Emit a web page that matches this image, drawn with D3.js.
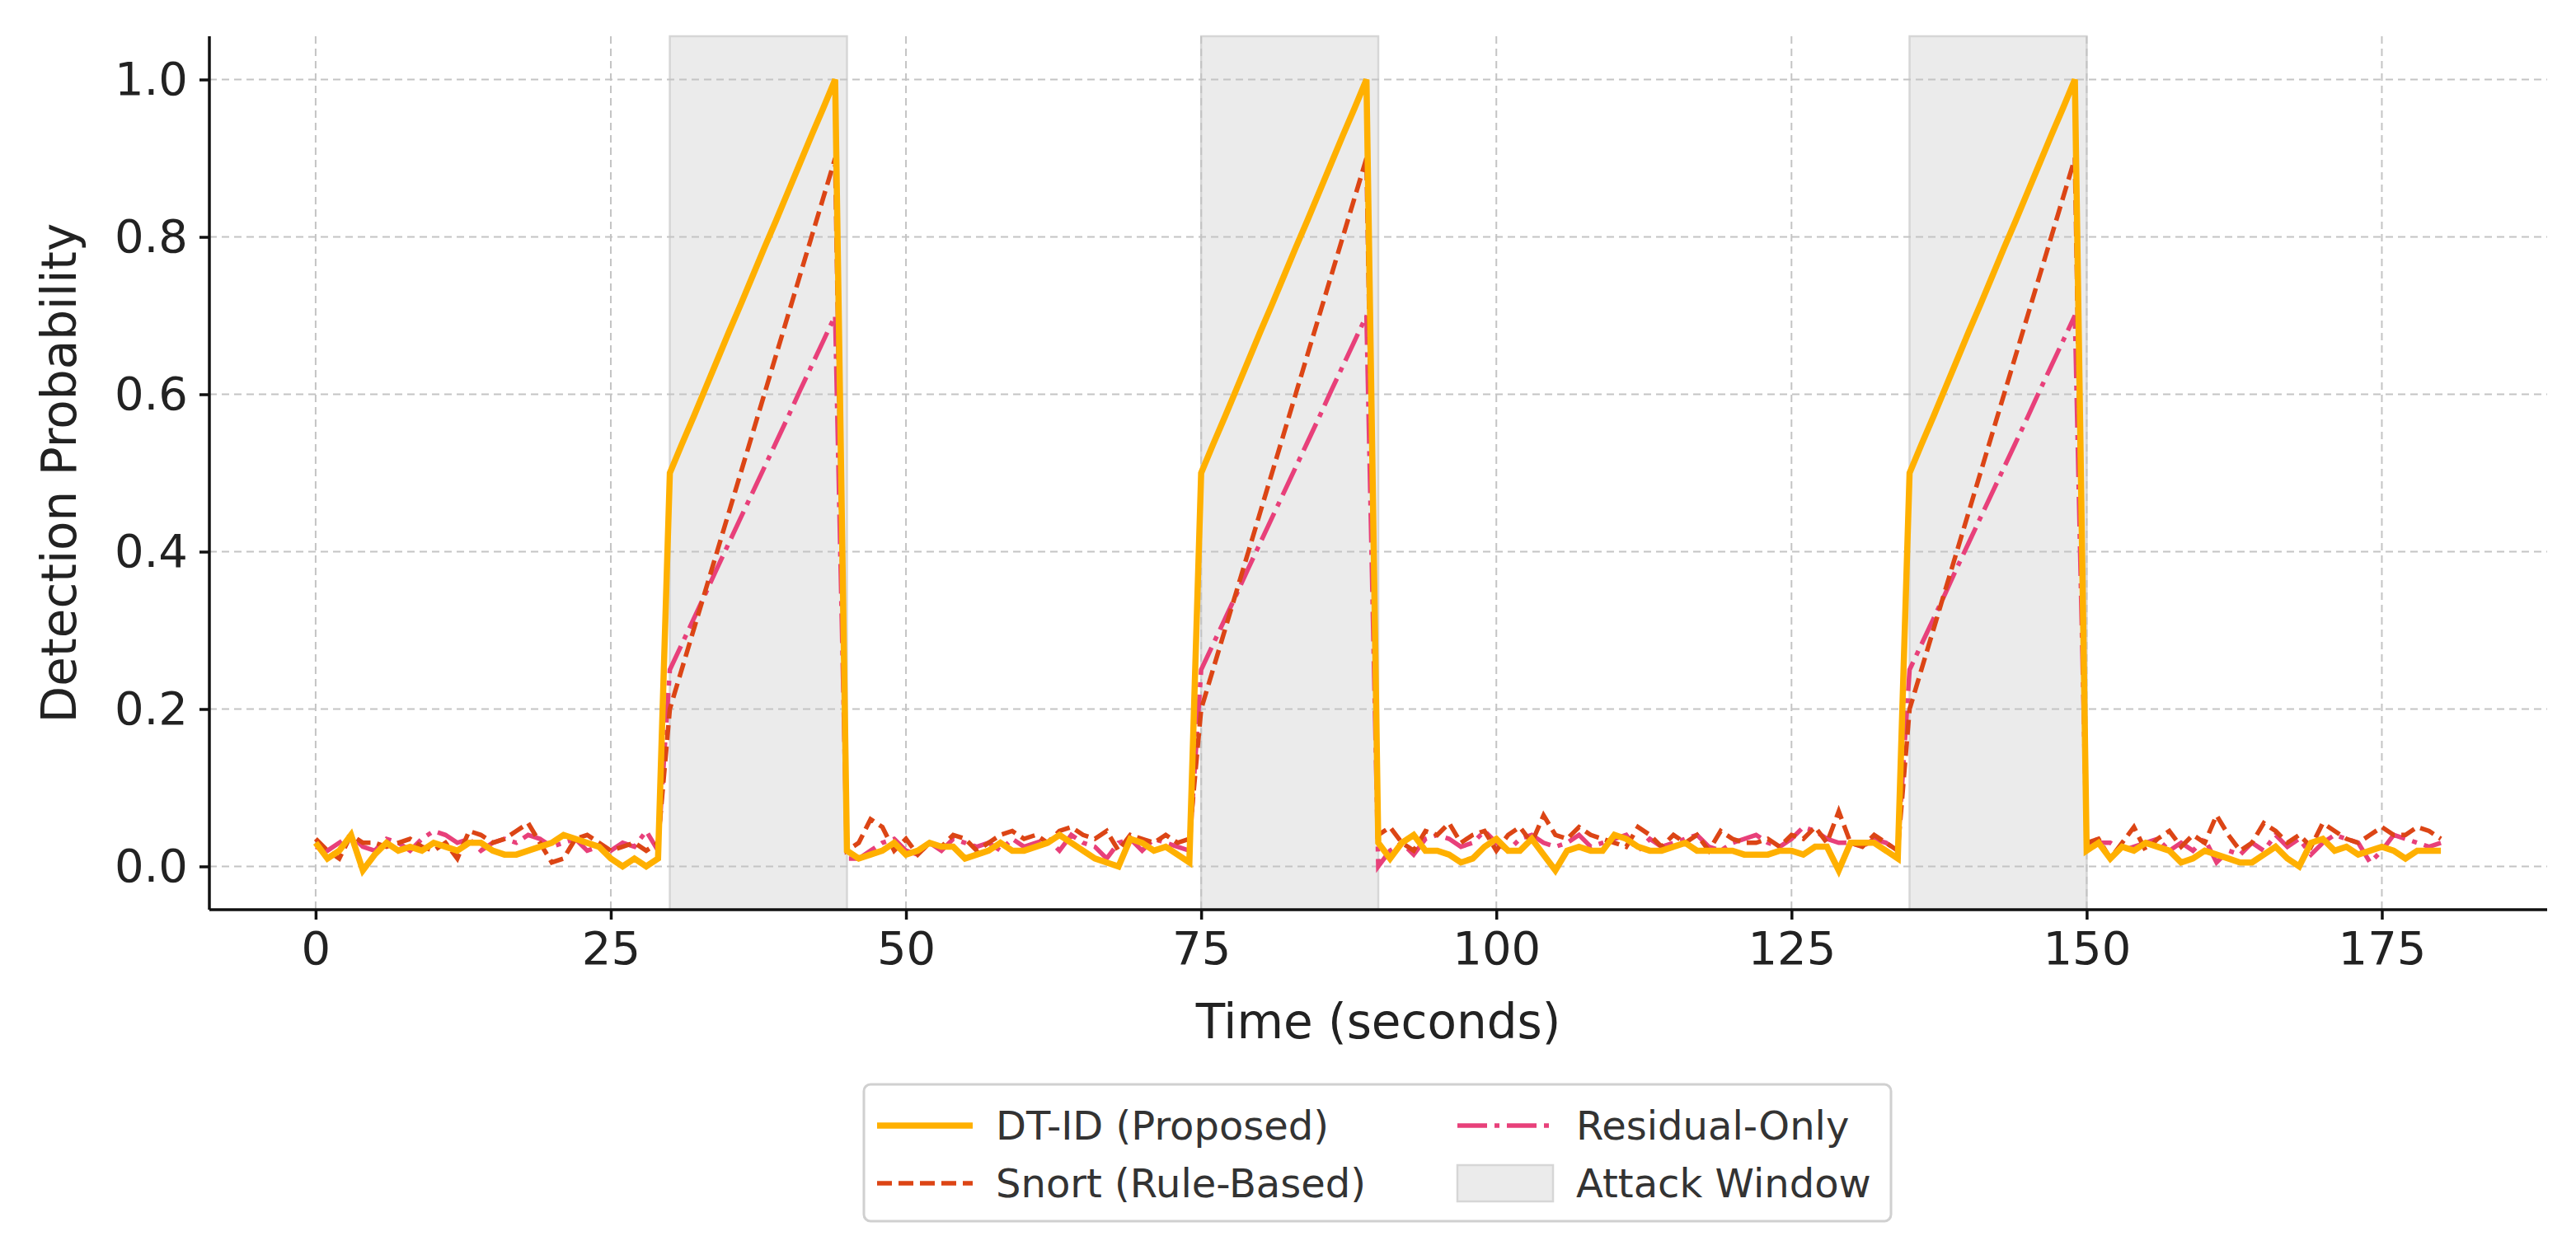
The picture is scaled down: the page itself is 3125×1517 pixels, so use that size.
<!DOCTYPE html>
<html><head><meta charset="utf-8">
<script src="https://cdn.jsdelivr.net/npm/d3@7"></script>
<style>body{margin:0;background:#fff}svg{display:block}</style>
</head><body><svg id="c" width="3125" height="1517"></svg>
<script>
// ---- data ----
const dtSeg0=[0.03,0.01,0.02,0.04,-0.005,0.015,0.03,0.02,0.025,0.02,0.03,0.025,0.02,0.03,0.03,0.02,0.015,0.015,0.02,0.025,0.03,0.04,0.035,0.03,0.025,0.01,0.0,0.01,0.0,0.01];
const dtSeg1=[0.02,0.01,0.015,0.02,0.03,0.015,0.02,0.03,0.025,0.025,0.01,0.015,0.02,0.03,0.02,0.02,0.025,0.03,0.04,0.03,0.02,0.01,0.005,0.0,0.035,0.03,0.02,0.025,0.015,0.005];
const dtSeg2=[0.03,0.01,0.03,0.04,0.02,0.02,0.015,0.005,0.01,0.025,0.035,0.02,0.02,0.035,0.015,-0.005,0.02,0.025,0.02,0.02,0.04,0.035,0.025,0.02,0.02,0.025,0.03,0.02,0.02,0.02,0.02,0.015,0.015,0.015,0.02,0.02,0.015,0.025,0.025,-0.005,0.03,0.03,0.03,0.02,0.01];
const dtSeg3=[0.02,0.03,0.01,0.025,0.02,0.03,0.025,0.02,0.005,0.01,0.02,0.015,0.01,0.005,0.005,0.015,0.025,0.01,0.0,0.03,0.035,0.02,0.025,0.015,0.02,0.025,0.02,0.01,0.02,0.02,0.02];
const dtRamp=[0.5,0.536,0.571,0.607,0.643,0.679,0.714,0.75,0.786,0.821,0.857,0.893,0.929,0.964,1.0];

const snSeg0=[0.035,0.02,0.01,0.04,0.03,0.03,0.025,0.03,0.035,0.025,0.02,0.03,0.01,0.045,0.04,0.03,0.035,0.045,0.055,0.03,0.005,0.01,0.035,0.04,0.03,0.02,0.025,0.03,0.02,0.03];
const snSeg1=[0.02,0.03,0.06,0.05,0.02,0.035,0.015,0.03,0.025,0.04,0.035,0.02,0.03,0.04,0.045,0.035,0.04,0.03,0.045,0.05,0.04,0.035,0.045,0.02,0.04,0.035,0.03,0.04,0.03,0.035];
const snSeg2=[0.04,0.05,0.03,0.02,0.045,0.04,0.055,0.03,0.04,0.045,0.02,0.04,0.05,0.03,0.065,0.04,0.035,0.05,0.04,0.035,0.03,0.025,0.05,0.04,0.025,0.04,0.03,0.04,0.02,0.045,0.035,0.03,0.03,0.035,0.025,0.04,0.035,0.05,0.03,0.07,0.03,0.025,0.04,0.03,0.02];
const snSeg3=[0.03,0.035,0.01,0.03,0.05,0.02,0.035,0.045,0.025,0.04,0.03,0.065,0.04,0.02,0.03,0.055,0.045,0.03,0.04,0.025,0.055,0.045,0.035,0.03,0.04,0.05,0.04,0.04,0.05,0.045,0.035];
const snRamp=[0.2,0.25,0.3,0.35,0.4,0.45,0.5,0.55,0.6,0.65,0.7,0.75,0.8,0.85,0.9];

const reSeg0=[0.025,0.02,0.03,0.04,0.025,0.02,0.035,0.03,0.02,0.035,0.045,0.04,0.03,0.035,0.02,0.03,0.035,0.03,0.04,0.035,0.025,0.03,0.035,0.02,0.025,0.02,0.03,0.025,0.045,0.02];
const reSeg1=[0.01,0.01,0.02,0.03,0.035,0.02,0.015,0.03,0.02,0.035,0.03,0.025,0.03,0.02,0.035,0.025,0.03,0.035,0.02,0.04,0.03,0.025,0.01,0.03,0.035,0.02,0.035,0.03,0.025,0.02];
const reSeg2=[0.0,0.02,0.03,0.015,0.035,0.04,0.035,0.025,0.03,0.045,0.03,0.02,0.035,0.04,0.03,0.025,0.03,0.04,0.025,0.03,0.035,0.04,0.02,0.035,0.025,0.03,0.035,0.04,0.025,0.02,0.03,0.035,0.04,0.03,0.025,0.035,0.05,0.045,0.035,0.03,0.03,0.025,0.035,0.03,0.02];
const reSeg3=[0.025,0.03,0.03,0.02,0.025,0.03,0.035,0.02,0.03,0.02,0.035,0.005,0.02,0.015,0.03,0.02,0.04,0.025,0.035,0.015,0.03,0.04,0.035,0.03,0.005,0.02,0.04,0.035,0.03,0.025,0.03];
const reRamp=[0.25,0.282,0.314,0.346,0.379,0.411,0.443,0.475,0.507,0.539,0.571,0.604,0.636,0.668,0.7];

const attackWindows=[[30,45],[75,90],[135,150]];
const xTicks=[0,25,50,75,100,125,150,175];
const yTicks=[0.0,0.2,0.4,0.6,0.8,1.0];
const seriesNames=["DT-ID (Proposed)","Snort (Rule-Based)","Residual-Only"];

const build=(s0,s1,s2,s3,r)=>[].concat(s0,r,s1,r,s2,r,s3);
const dt=build(dtSeg0,dtSeg1,dtSeg2,dtSeg3,dtRamp);
const sn=build(snSeg0,snSeg1,snSeg2,snSeg3,snRamp);
const re=build(reSeg0,reSeg1,reSeg2,reSeg3,reRamp);

// ---- layout ----
const svg=d3.select("#c");
const L=254,R=3090,T=44,B=1104;
const x=d3.scaleLinear().domain([-9,189]).range([L,R]);
const y=d3.scaleLinear().domain([-0.055,1.055]).range([B,T]);
const font="'DejaVu Sans', sans-serif";
const RE_DA="36,9,6,9", SN_DA="18,8";

svg.append("g").selectAll("rect").data(attackWindows).join("rect")
  .attr("x",d=>x(d[0])).attr("width",d=>x(d[1])-x(d[0]))
  .attr("y",T).attr("height",B-T)
  .attr("fill","#ebebeb").attr("stroke","#d6d6d6").attr("stroke-width",2.5);

const g=svg.append("g");
g.selectAll(".vx").data(xTicks).join("line").attr("x1",d=>x(d)).attr("x2",d=>x(d)).attr("y1",T).attr("y2",B)
 .attr("stroke","#c4c4c4").attr("stroke-width",2).attr("stroke-dasharray","9,6");
g.selectAll(".hy").data(yTicks).join("line").attr("y1",d=>y(d)).attr("y2",d=>y(d)).attr("x1",L).attr("x2",R)
 .attr("stroke","#c4c4c4").attr("stroke-width",2).attr("stroke-dasharray","9,6");

const line=arr=>d3.line().x((d,i)=>x(i)).y(d=>y(d))(arr);
svg.append("path").attr("d",line(re)).attr("fill","none").attr("stroke","#E8407A").attr("stroke-width",5.5).attr("stroke-dasharray",RE_DA);
svg.append("path").attr("d",line(sn)).attr("fill","none").attr("stroke","#DC4515").attr("stroke-width",5.5).attr("stroke-dasharray",SN_DA);
svg.append("path").attr("d",line(dt)).attr("fill","none").attr("stroke","#FFB000").attr("stroke-width",7.5);

const xa=svg.append("g").attr("transform",`translate(0,${B})`).call(d3.axisBottom(x).tickValues(xTicks).tickFormat(d3.format("d")).tickSize(12).tickPadding(14));
const ya=svg.append("g").attr("transform",`translate(${L},0)`).call(d3.axisLeft(y).tickValues(yTicks).tickFormat(d3.format(".1f")).tickSize(12).tickPadding(14));
[xa,ya].forEach(a=>{a.select(".domain").attr("stroke","#111").attr("stroke-width",3.5);
 a.selectAll(".tick line").attr("stroke","#111").attr("stroke-width",3.5);
 a.selectAll("text").attr("font-family",font).attr("font-size",56).attr("fill","#222");});
xa.select(".domain").attr("d",`M${L},0H${R}`);
ya.select(".domain").attr("d",`M0,${T}V${B}`);

svg.append("text").attr("x",(L+R)/2).attr("y",1260).attr("text-anchor","middle").attr("font-family",font).attr("font-size",58).attr("fill","#222").text("Time (seconds)");
svg.append("text").attr("transform",`translate(92,${(T+B)/2}) rotate(-90)`).attr("text-anchor","middle").attr("font-family",font).attr("font-size",58).attr("fill","#222").text("Detection Probability");

const lg=svg.append("g");
lg.append("rect").attr("x",1048).attr("y",1316).attr("width",1246).attr("height",166).attr("rx",8)
  .attr("fill","#fff").attr("stroke","#d0d0d0").attr("stroke-width",3);
const items=[
 {n:seriesNames[0],c:"#FFB000",w:7.5,da:null,x:1064,y:1366},
 {n:seriesNames[1],c:"#DC4515",w:5.5,da:SN_DA,x:1064,y:1436},
 {n:seriesNames[2],c:"#E8407A",w:5.5,da:RE_DA,x:1768,y:1366},
 {n:"Attack Window",box:true,x:1768,y:1436}];
items.forEach(it=>{
  if(it.box){lg.append("rect").attr("x",it.x).attr("y",it.y-22).attr("width",116).attr("height",44).attr("fill","#ebebeb").attr("stroke","#d6d6d6").attr("stroke-width",2.5);}
  else{lg.append("line").attr("x1",it.x).attr("x2",it.x+116).attr("y1",it.y).attr("y2",it.y).attr("stroke",it.c).attr("stroke-width",it.w).attr("stroke-dasharray",it.da);}
  lg.append("text").attr("x",it.x+144).attr("y",it.y).attr("dy","0.35em").attr("font-family",font).attr("font-size",48).attr("fill","#333").text(it.box?"Attack Window":it.n);
});
</script></body></html>
